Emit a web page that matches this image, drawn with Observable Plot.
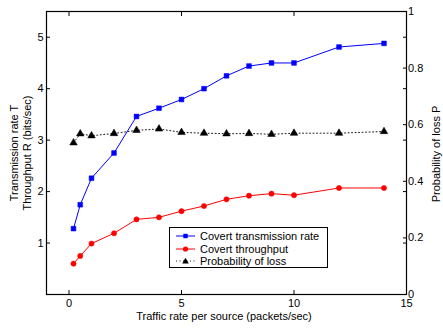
<!DOCTYPE html>
<html>
<head>
<meta charset="utf-8">
<script src="https://cdn.jsdelivr.net/npm/d3@7"></script>
<script src="https://cdn.jsdelivr.net/npm/@observablehq/plot@0.6"></script>
<style>
  body { margin: 0; background: #fff; }
  #wrap { position: relative; width: 443px; height: 329px; font-family: "Liberation Sans", Arial, Helvetica, sans-serif; color: #000; }
  .lab { position: absolute; white-space: nowrap; font-size: 11px; line-height: 13px; text-align: center; }
  .rot { transform: translate(-50%, -50%) rotate(-90deg); }
  #legend { position: absolute; left: 169px; top: 227px; width: 159px; height: 41px; border: 1.3px solid #000; background: #fff; box-sizing: border-box; }
  #legend .row { position: absolute; left: 0; height: 12px; display: flex; align-items: center; font-size: 11px; white-space: nowrap; }
</style>
</head>
<body>
<div id="wrap"></div>
<script>
// ---- data ----
const trafficRate = [0.2, 0.5, 1, 2, 3, 4, 5, 6, 7, 8, 9, 10, 12, 14];
const transmissionRate = [1.28, 1.745, 2.26, 2.75, 3.46, 3.62, 3.79, 4.0, 4.25, 4.44, 4.50, 4.50, 4.81, 4.88];
const throughput = [0.60, 0.75, 0.99, 1.19, 1.46, 1.50, 1.62, 1.72, 1.85, 1.92, 1.96, 1.93, 2.07, 2.07];
const lossProb = [0.536, 0.568, 0.561, 0.569, 0.580, 0.585, 0.573, 0.570, 0.568, 0.569, 0.566, 0.570, 0.570, 0.576];

const xTicks = [0, 5, 10, 15];
const yLeftTicks = [1, 2, 3, 4, 5];
const yRightTicks = [0, 0.2, 0.4, 0.6, 0.8, 1];
const yRightLabels = ["0", "0.2", "0.4", "0.6", "0.8", "1"];
const seriesNames = ["Covert transmission rate", "Covert throughput", "Probability of loss"];
const xLabel = "Traffic rate per source (packets/sec)";
const yLeftLabel = ["Transmission rate T", "Throughput R (bits/sec)"];
const yRightLabel = "Probability of loss P";

const leftMax = 5.5;   // left axis domain top; right axis [0,1] mapped onto it
const toLeft = p => p * leftMax;

const rows = trafficRate.map((x, i) => ({x, T: transmissionRate[i], R: throughput[i], P: lossProb[i]}));

const BLUE = "#0000ff", RED = "#ff0000";

const chart = Plot.plot({
  width: 443,
  height: 329,
  marginLeft: 46,
  marginRight: 37,
  marginTop: 11,
  marginBottom: 35,
  style: {fontFamily: "'Liberation Sans', Arial, Helvetica, sans-serif", fontSize: "11px", background: "#fff", color: "#000"},
  x: {domain: [-1, 15]},
  y: {domain: [0, leftMax]},
  marks: [
    Plot.axisX(xTicks, {anchor: "bottom", tickSize: -4, tickPadding: 9, label: null, tickFormat: d => String(d)}),
    Plot.axisX(xTicks, {anchor: "top", tickSize: -4, fill: "none", label: null}),
    Plot.axisY(yLeftTicks, {anchor: "left", tickSize: -4, tickPadding: 7, label: null, tickFormat: d => String(d)}),
    Plot.axisY(yLeftTicks, {anchor: "right", tickSize: -4, fill: "none", label: null}),
    Plot.axisY(yRightTicks.map(toLeft), {anchor: "right", tickSize: -4, tickPadding: 5.5, label: null,
      tickFormat: (d, i) => yRightLabels[i], textAnchor: "start"}),
    Plot.line(rows, {x: "x", y: d => toLeft(d.P), stroke: "#000", strokeWidth: 0.9, strokeDasharray: "1,2.5"}),
    Plot.line(rows, {x: "x", y: "T", stroke: BLUE, strokeWidth: 1}),
    Plot.line(rows, {x: "x", y: "R", stroke: RED, strokeWidth: 1}),
    Plot.dot(rows, {x: "x", y: "T", symbol: "square", r: 2.7, fill: BLUE, stroke: BLUE, strokeWidth: 0.5}),
    Plot.dot(rows, {x: "x", y: "R", symbol: "circle", r: 2.6, fill: RED, stroke: RED, strokeWidth: 0.5}),
    Plot.dot(rows, {x: "x", y: d => toLeft(d.P), symbol: "triangle", r: 2.8, fill: "#000", stroke: "#000", strokeWidth: 0.5}),
    Plot.frame({stroke: "#000", strokeWidth: 1.2})
  ]
});

const wrap = document.getElementById("wrap");
wrap.appendChild(chart);

function addLabel(html, x, y, rotate) {
  const d = document.createElement("div");
  d.className = "lab" + (rotate ? " rot" : "");
  d.innerHTML = html;
  d.style.left = x + "px";
  d.style.top = y + "px";
  if (!rotate) d.style.transform = "translate(-50%, -50%)";
  wrap.appendChild(d);
}
addLabel(yLeftLabel.join("<br>"), 20.5, 153, true);
addLabel(yRightLabel, 435.5, 154, true);
addLabel(xLabel, 224, 316, false);

// legend
const legend = document.createElement("div");
legend.id = "legend";
const sym = [
  `<line x1="6" x2="25" y1="6" y2="6" stroke="${BLUE}" stroke-width="1"/><rect x="13.3" y="3.8" width="4.4" height="4.4" fill="${BLUE}"/>`,
  `<line x1="6" x2="25" y1="6" y2="6" stroke="${RED}" stroke-width="1"/><circle cx="15.5" cy="6" r="2.6" fill="${RED}"/>`,
  `<line x1="6" x2="25" y1="6" y2="6" stroke="#000" stroke-width="0.9" stroke-dasharray="1,2.5"/><path d="M15.5,2.8 L18.8,8.5 L12.2,8.5 Z" fill="#000"/>`
];
const rowTops = [2, 15, 27];
seriesNames.forEach((name, i) => {
  const r = document.createElement("div");
  r.className = "row";
  r.style.top = rowTops[i] + "px";
  r.innerHTML = `<svg width="30" height="12" style="display:block">${sym[i]}</svg><span>${name}</span>`;
  legend.appendChild(r);
});
wrap.appendChild(legend);
</script>
</body>
</html>
